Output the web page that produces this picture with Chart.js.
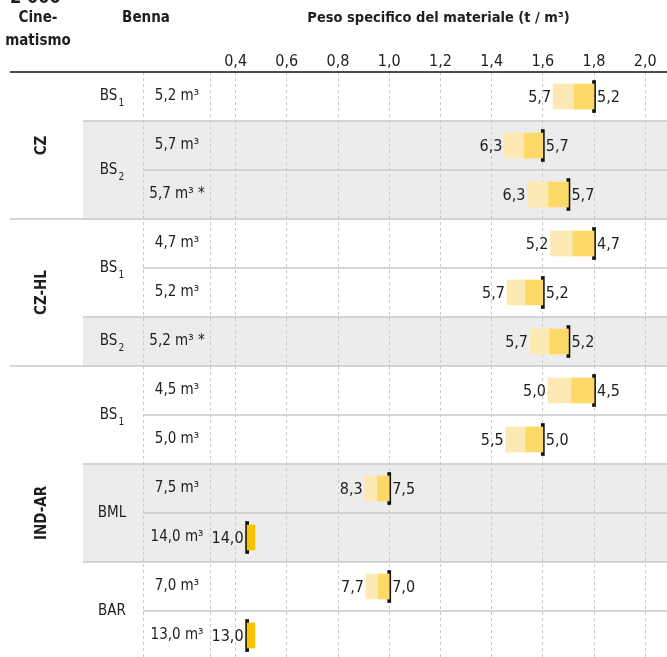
<!DOCTYPE html>
<html>
<head>
<meta charset="utf-8">
<script src="https://cdn.jsdelivr.net/npm/chart.js@4.4.1/dist/chart.umd.min.js"></script>
<style>
  html, body { margin: 0; padding: 0; overflow: hidden; background: #fff; }
  #wrap { width: 667px; height: 660px; position: relative; }
</style>
</head>
<body>
<div id="wrap"><canvas id="chart"></canvas></div>
<script>
// rows of the table, top to bottom
const volumes = ['5,2 m³', '5,7 m³', '5,7 m³ *', '4,7 m³', '5,2 m³', '5,2 m³ *', '4,5 m³', '5,0 m³', '7,5 m³', '14,0 m³', '7,0 m³', '13,0 m³'];
const densities = [1.8, 1.6, 1.7, 1.8, 1.6, 1.7, 1.8, 1.6, 1.0, 0.445, 1.0, 0.445];
const lightStart = [1.64, 1.45, 1.54, 1.63, 1.46, 1.55, 1.62, 1.455, 0.904, null, 0.909, null];
const darkStart = [1.72, 1.525, 1.62, 1.715, 1.53, 1.625, 1.71, 1.53, 0.952, null, 0.955, null];
const smallEnd = [null, null, null, null, null, null, null, null, null, 0.475, null, 0.475];
const leftLabels = ['5,7', '6,3', '6,3', '5,2', '5,7', '5,7', '5,0', '5,5', '8,3', '14,0', '7,7', '13,0'];
const rightLabels = ['5,2', '5,7', '5,7', '4,7', '5,2', '5,2', '4,5', '5,0', '7,5', '', '7,0', ''];

// grouping columns
const groupNames = ['CZ', 'CZ-HL', 'IND-AR'];
const groupSizes = [3, 3, 6];
const bucketNames = ['BS', 'BS', 'BS', 'BS', 'BS', 'BML', 'BAR'];
const bucketSubs = ['1', '2', '1', '2', '1', '', ''];
const bucketSizes = [1, 2, 2, 1, 2, 2, 2];

// x axis
const tickValues = [0.3, 0.4, 0.6, 0.8, 1.0, 1.2, 1.4, 1.6, 1.8, 2.0];
const tickLabels = ['', '0,4', '0,6', '0,8', '1,0', '1,2', '1,4', '1,6', '1,8', '2,0'];

const FONT = "'Liberation Sans Narrow', 'DejaVu Sans Condensed', 'Roboto Condensed', Roboto, sans-serif";
const GRID = '#c9c9c9';
const INK = '#1e1e1e';

function rowTop(y, i) {
    const h = y.getPixelForValue(1) - y.getPixelForValue(0);
    return y.getPixelForValue(i) - h / 2;
}

const tablePlugin = {
    id: 'table',
    beforeDraw(chart) {
        const ctx = chart.ctx;
        const y = chart.scales.y;
        // grey bands for every other bucket
        let r = 0;
        ctx.save();
        bucketSizes.forEach((n, b) => {
            if (b % 2 === 1) {
                ctx.fillStyle = '#ebeceb';
                ctx.fillRect(83, rowTop(y, r), chart.width - 83, rowTop(y, r + n) - rowTop(y, r));
            }
            r += n;
        });
        ctx.restore();
    },
    beforeDatasetsDraw(chart) {
        const ctx = chart.ctx;
        const y = chart.scales.y;
        const area = chart.chartArea;
        ctx.save();
        // dashed column line between bucket and volume
        ctx.strokeStyle = GRID;
        ctx.lineWidth = 1;
        ctx.setLineDash([3, 3]);
        ctx.beginPath();
        ctx.moveTo(143.5, area.top);
        ctx.lineTo(143.5, area.bottom);
        ctx.stroke();
        ctx.setLineDash([]);

        // separators: rows from the volume column, buckets from the bucket column, groups full width
        ctx.lineWidth = 1.5;
        ctx.strokeStyle = GRID;
        const starts = {};
        for (let i = 1; i < volumes.length; i++) starts[i] = 143;
        let r = 0;
        bucketSizes.forEach(n => { r += n; starts[r] = 83; });
        r = 0;
        groupSizes.forEach(n => { r += n; starts[r] = 10; });
        for (let i = 1; i < volumes.length; i++) {
            const py = rowTop(y, i);
            ctx.beginPath();
            ctx.moveTo(starts[i], py);
            ctx.lineTo(chart.width, py);
            ctx.stroke();
        }
        // header rule
        ctx.strokeStyle = '#111';
        ctx.lineWidth = 1.5;
        ctx.beginPath();
        ctx.moveTo(10, area.top);
        ctx.lineTo(chart.width, area.top);
        ctx.stroke();
        ctx.restore();
    },
    afterDatasetsDraw(chart) {
        const ctx = chart.ctx;
        const x = chart.scales.x;
        const y = chart.scales.y;
        ctx.save();
        ctx.fillStyle = INK;
        ctx.textBaseline = 'middle';

        // headers
        ctx.font = 'bold 15px ' + FONT;
        ctx.textAlign = 'center';
        ctx.fillText('Cine-', 38, 18);
        ctx.fillText('matismo', 38, 41);
        ctx.fillText('Benna', 146, 18);
        ctx.textAlign = 'left';
        ctx.textBaseline = 'alphabetic';
        ctx.font = 'bold 18px ' + FONT;
        ctx.fillText('2 000', 10, 3);
        ctx.textBaseline = 'middle';

        // group labels, rotated
        let r = 0;
        groupNames.forEach((g, k) => {
            const cy = (rowTop(y, r) + rowTop(y, r + groupSizes[k])) / 2;
            ctx.save();
            ctx.translate(42, cy);
            ctx.rotate(-Math.PI / 2);
            ctx.textAlign = 'center';
            ctx.font = 'bold 15px ' + FONT;
            ctx.fillText(g, 0, 0);
            ctx.restore();
            r += groupSizes[k];
        });

        // bucket labels with subscript
        r = 0;
        bucketNames.forEach((b, k) => {
            const cy = (rowTop(y, r) + rowTop(y, r + bucketSizes[k])) / 2;
            ctx.font = '15px ' + FONT;
            const w1 = ctx.measureText(b).width;
            ctx.font = '10px ' + FONT;
            const w2 = bucketSubs[k] ? ctx.measureText(bucketSubs[k]).width + 1 : 0;
            const sx = 112 - (w1 + w2) / 2;
            ctx.textAlign = 'left';
            ctx.font = '15px ' + FONT;
            ctx.fillText(b, sx, cy);
            if (bucketSubs[k]) {
                ctx.font = '10px ' + FONT;
                ctx.fillText(bucketSubs[k], sx + w1 + 1, cy + 7);
            }
            r += bucketSizes[k];
        });

        // volumes
        ctx.font = '15px ' + FONT;
        ctx.textAlign = 'center';
        volumes.forEach((v, i) => ctx.fillText(v, 177, y.getPixelForValue(i)));

        // values beside the bars
        ctx.font = '16px ' + FONT;
        volumes.forEach((v, i) => {
            const py = y.getPixelForValue(i) + 1;
            const from = lightStart[i] != null ? lightStart[i] : densities[i] - 0.006;
            ctx.textAlign = 'right';
            ctx.fillText(leftLabels[i], x.getPixelForValue(from) - 2, py);
            ctx.textAlign = 'left';
            ctx.fillText(rightLabels[i], x.getPixelForValue(densities[i]) + 3, py);
        });
        ctx.restore();
    }
};

const config = {
    type: 'bar',
    data: {
        labels: volumes,
        datasets: [
            {
                label: 'light',
                data: lightStart.map((s, i) => s == null ? null : [s, darkStart[i]]),
                backgroundColor: '#fde9b4',
                barThickness: 25,
                grouped: false
            },
            {
                label: 'dark',
                data: darkStart.map((s, i) => s == null ? null : [s, densities[i]]),
                backgroundColor: '#fdd967',
                barThickness: 25,
                grouped: false
            },
            {
                label: 'small',
                data: smallEnd.map((e, i) => e == null ? null : [densities[i], e]),
                backgroundColor: '#f6c400',
                barThickness: 25,
                grouped: false
            },
            {
                label: 'limit',
                data: densities.map(d => [d - 0.006, d + 0.006]),
                backgroundColor: '#111',
                barThickness: 32,
                grouped: false
            }
        ]
    },
    options: {
        indexAxis: 'y',
        responsive: true,
        maintainAspectRatio: false,
        animation: false,
        layout: { padding: { left: 210, right: 0, top: 0, bottom: 0 } },
        plugins: {
            legend: { display: false },
            tooltip: { enabled: false }
        },
        scales: {
            x: {
                type: 'linear',
                position: 'top',
                min: 0.3,
                max: 2.085,
                afterBuildTicks: scale => { scale.ticks = tickValues.map(v => ({ value: v })); },
                afterFit: scale => { scale.height = 72; },
                border: { display: false },
                grid: {
                    color: GRID,
                    lineWidth: 1,
                    drawTicks: false
                },
                ticks: {
                    padding: 1,
                    color: INK,
                    font: { family: FONT, size: 16 },
                    maxRotation: 0,
                    autoSkip: false,
                    callback: (v, i) => tickLabels[i]
                },
                title: {
                    display: true,
                    text: 'Peso specifico del materiale (t / m³)',
                    color: INK,
                    font: { family: FONT, size: 14.5, weight: 'bold' },
                    padding: { top: 10, bottom: 0 }
                }
            },
            y: {
                display: false
            }
        }
    },
    plugins: [tablePlugin]
};

// dashed grid lines
config.options.scales.x.border.dash = [3, 3];
config.options.scales.x.grid.borderDash = [3, 3];
Chart.defaults.font.family = FONT;
const chart = new Chart(document.getElementById('chart'), config);
</script>
</body>
</html>
